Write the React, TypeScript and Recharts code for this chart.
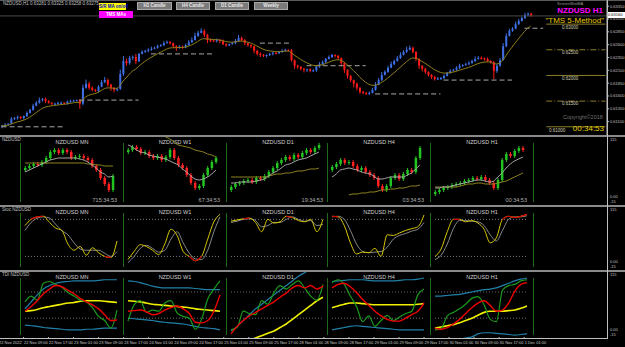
import React from "react";
import { ComposedChart, Bar, Line, XAxis, YAxis, ReferenceLine } from "recharts";

// ---- main NZDUSD H1 window, prices in pips (6300 = 0.63000) ----
const h1Open0 = 6100;
const h1Close = [
  6102, 6104, 6106, 6115, 6117, 6119, 6117, 6121, 6127, 6133,
  6141, 6147, 6152, 6154, 6150, 6147, 6145, 6145, 6146, 6147,
  6146, 6149, 6150, 6151, 6152, 6145, 6176, 6184, 6176, 6172,
  6170, 6178, 6187, 6191, 6182, 6176, 6172, 6174, 6203, 6228,
  6224, 6234, 6236, 6228, 6242, 6246, 6248, 6250, 6252, 6254,
  6257, 6259, 6263, 6265, 6263, 6257, 6254, 6256, 6255, 6259,
  6265, 6269, 6277, 6283, 6287, 6279, 6269, 6268, 6267, 6269,
  6267, 6261, 6259, 6261, 6263, 6267, 6273, 6269, 6263, 6259,
  6257, 6248, 6242, 6240, 6238, 6240, 6242, 6244, 6243, 6246,
  6248, 6250, 6249, 6230, 6219, 6217, 6213, 6211, 6212, 6209,
  6210, 6217, 6222, 6226, 6232, 6236, 6240, 6238, 6234, 6224,
  6211, 6199, 6191, 6184, 6176, 6168, 6166, 6164, 6166, 6172,
  6182, 6191, 6201, 6207, 6215, 6222, 6228, 6234, 6240, 6246,
  6250, 6254, 6246, 6232, 6219, 6213, 6207, 6201, 6197, 6193,
  6194, 6195, 6199, 6205, 6209, 6211, 6215, 6219, 6220, 6222,
  6224, 6228, 6232, 6234, 6233, 6232, 6228, 6226, 6209, 6219,
  6230, 6257, 6277, 6287, 6291, 6300, 6306, 6312, 6318, 6320,
  6316,
];
const h1WickUp = [
  2, 3, 1, 4, 2, 3, 2, 1, 3, 2, 4, 3, 5, 2, 3, 2, 1, 2, 3, 2,
  1, 2, 3, 2, 1, 2, 6, 8, 4, 3, 2, 3, 4, 6, 3, 2, 1, 2, 8, 10,
  5, 4, 3, 6, 2, 3, 2, 3, 4, 2, 3, 2, 4, 3, 2, 1, 2, 3, 2, 3,
  4, 5, 6, 4, 5, 3, 2, 3, 2, 3, 2, 3, 2, 1, 2, 4, 6, 3, 2, 1,
  2, 1, 2, 3, 2, 1, 2, 3, 2, 2, 3, 2, 1, 2, 1, 2, 1, 2, 1, 2,
  2, 3, 4, 3, 2, 3, 2, 1, 2, 1, 2, 1, 2, 1, 2, 1, 2, 2, 3, 4,
  5, 4, 6, 3, 4, 5, 3, 4, 5, 3, 6, 4, 2, 1, 2, 1, 2, 1, 2, 2,
  3, 2, 3, 2, 3, 2, 3, 4, 2, 3, 4, 3, 5, 4, 3, 2, 3, 2, 2, 3,
  4, 6, 5, 4, 3, 5, 4, 3, 4, 3, 2,
];
const h1WickDn = [
  3, 2, 2, 1, 2, 3, 2, 3, 2, 1, 2, 1, 2, 3, 4, 2, 3, 4, 2, 3,
  2, 3, 2, 1, 2, 10, 3, 2, 4, 3, 2, 3, 1, 2, 4, 6, 5, 3, 2, 4,
  5, 3, 4, 6, 2, 1, 2, 3, 2, 1, 2, 1, 2, 1, 3, 4, 6, 2, 3, 2,
  1, 2, 1, 2, 1, 4, 6, 3, 2, 3, 4, 2, 3, 2, 1, 2, 1, 3, 4, 3,
  4, 5, 3, 4, 2, 3, 2, 3, 2, 1, 2, 1, 2, 3, 6, 4, 3, 5, 4, 3,
  2, 3, 2, 1, 2, 1, 2, 3, 4, 5, 6, 5, 4, 7, 5, 4, 3, 2, 2, 1,
  2, 1, 2, 1, 2, 1, 2, 1, 2, 1, 2, 1, 3, 4, 6, 5, 4, 3, 4, 3,
  2, 3, 2, 1, 2, 1, 2, 3, 2, 1, 2, 1, 2, 1, 2, 3, 2, 3, 16, 4,
  2, 1, 2, 1, 2, 1, 2, 1, 2, 3, 2,
];
const priceTicks = [6335, 6310, 6285, 6260, 6235, 6210, 6185, 6160, 6135, 6110];
const levelPrices = [6300, 6250, 6200, 6150, 6100];
const levelLabels = ["0.63000", "0.62500", "0.62000", "0.61500", "0.61000"];
// dashed support / resistance pieces: [first bar, last bar, price]
const srLines = [
  [0, 20, 6100],
  [25, 44, 6152],
  [48, 68, 6242],
  [83, 93, 6263],
  [98, 117, 6219],
  [120, 141, 6164],
  [142, 164, 6191],
  [168, 174, 6292],
];
const timeLabels = [
  "22 Nov 2022", "22 Nov 09:00", "22 Nov 17:00", "23 Nov 01:00", "23 Nov 09:00",
  "23 Nov 17:00", "24 Nov 01:00", "24 Nov 09:00", "24 Nov 17:00", "25 Nov 01:00",
  "25 Nov 09:00", "25 Nov 17:00", "28 Nov 01:00", "28 Nov 09:00", "28 Nov 17:00",
  "29 Nov 01:00", "29 Nov 09:00", "29 Nov 17:00", "30 Nov 01:00", "30 Nov 09:00",
  "30 Nov 17:00", "1 Dec 01:00",
];

// ---- the five small windows (MN, W1, D1, H4, H1) ----
const frames = ["MN", "W1", "D1", "H4", "H1"];
const frameTimers = ["715:34:53", "67:34:53", "19:34:53", "03:34:53", "00:34:53"];
const subOpen0 = [30, 48, 10, 30, 6];
const subClose = [
  [32, 34, 36, 35, 38, 42, 48, 50, 47, 50, 48, 42, 43, 44, 42, 40, 34, 30, 22, 16, 10, 24],
  [50, 53, 51, 47, 48, 44, 42, 44, 40, 43, 50, 42, 35, 32, 25, 17, 12, 14, 25, 32, 38, 42],
  [13, 16, 17, 19, 20, 18, 22, 21, 24, 28, 32, 37, 40, 43, 41, 45, 43, 47, 50, 48, 52, 55],
  [33, 36, 40, 37, 38, 34, 30, 32, 28, 25, 22, 14, 10, 14, 22, 25, 21, 26, 30, 28, 42, 52],
  [8, 10, 12, 13, 15, 16, 17, 19, 20, 22, 21, 23, 20, 17, 12, 20, 40, 46, 44, 49, 52, 50],
];
const subFastMa = [
  [28, 30, 32, 34, 36, 38, 40, 41, 42, 42, 42, 42, 42, 41, 40, 38, 35, 32, 28, 26, 23, 24],
  [55, 53, 50, 48, 47, 45, 44, 43, 42, 41, 39, 37, 35, 31, 28, 24, 21, 20, 21, 23, 26, 30],
  [17, 17, 18, 18, 18, 18, 19, 20, 21, 24, 27, 29, 32, 35, 36, 38, 40, 41, 42, 44, 46, 48],
  [23, 26, 30, 31, 32, 31, 30, 28, 27, 26, 24, 21, 21, 22, 23, 23, 23, 23, 25, 27, 31, 35],
  [12, 12, 13, 13, 14, 15, 16, 17, 18, 19, 20, 20, 19, 18, 19, 23, 27, 32, 36, 39, 41, 43],
];
const subSlowMa = [
  [37, 37, 37, 37, 37, 37, 37, 37, 37, 37, 37, 37, 37, 37, 37, 36, 36, 35, 35, 34, 34, 34],
  [75, 74, 73, 72, 71, 70, 68, 67, 65, 63, 61, 58, 55, 54, 53, 52, 50, 49, 48, 46, 45, 43],
  [23, 23, 23, 23, 23, 23, 23, 23, 23, 24, 25, 26, 26, 27, 27, 28, 29, 29, 30, 31, 31, 32],
  [null, null, null, null, 5, 6, 6, 7, 7, 8, 8, 9, 10, 10, 11, 11, 12, 12, 13, 14, 14, 15],
  [13, 13, 13, 13, 13, 13, 14, 15, 16, 16, 17, 17, 16, 16, 16, 17, 18, 19, 21, 23, 25, 27],
];
const stochMain = [
  [70, 80, 84, 85, 75, 66, 62, 40, 30, 36, 22, 34, 26, 20, 18, 45],
  [15, 28, 39, 36, 30, 23, 40, 64, 54, 28, 20, 13, 20, 48, 76, 88],
  [77, 79, 81, 82, 75, 60, 80, 74, 76, 85, 83, 78, 76, 80, 60, 80],
  [85, 84, 70, 42, 24, 27, 26, 33, 20, 55, 54, 58, 62, 65, 68, 87],
  [20, 32, 60, 80, 80, 76, 78, 74, 64, 42, 50, 80, 85, 83, 85, 88],
];
const stochSignal = [
  [62, 75, 82, 84, 82, 72, 62, 55, 42, 32, 30, 30, 30, 25, 20, 28],
  [10, 20, 33, 38, 33, 27, 30, 48, 60, 42, 25, 16, 15, 30, 60, 84],
  [75, 77, 80, 81, 78, 68, 70, 75, 75, 80, 84, 80, 77, 78, 70, 72],
  [84, 85, 80, 62, 40, 28, 26, 27, 28, 35, 48, 54, 57, 61, 64, 75],
  [15, 22, 40, 65, 78, 78, 77, 76, 70, 55, 45, 62, 80, 84, 84, 86],
];
const tdiGreen = [
  [50, 60, 53, 82, 85, 80, 75, 66, 60, 53, 50, 40, 25, 18, 5, 36],
  [17, 45, 52, 32, 36, 34, 48, 52, 31, 25, 22, 3, 20, 55, 72, 86],
  [2, 6, 34, 30, 28, 52, 46, 66, 78, 72, 80, 86, 74, 60, 53, 80],
  [83, 88, 80, 60, 42, 16, 26, 8, 18, 27, 18, 24, 30, 34, 62, 72],
  [2, 4, 26, 32, 38, 46, 56, 59, 45, 20, 16, 70, 78, 80, 86, 88],
];
const tdiRed = [
  [34, 42, 52, 64, 72, 78, 76, 70, 64, 56, 50, 45, 38, 28, 18, 19],
  [34, 35, 36, 33, 28, 30, 36, 40, 43, 38, 30, 15, 14, 18, 34, 62],
  [-5, 8, 18, 26, 32, 38, 44, 50, 58, 65, 74, 78, 74, 78, 72, 77],
  [74, 80, 82, 76, 66, 54, 44, 34, 26, 20, 17, 17, 22, 28, 34, 48],
  [5, 3, 6, 12, 20, 30, 40, 48, 52, 44, 34, 36, 48, 68, 80, 83],
];
const tdiYellow = [
  [34, 35, 37, 40, 42, 44, 46, 48, 49, 51, 52, 52, 52, 51, 50, 49],
  [52, 51, 50, 48, 46, 45, 44, 43, 42, 41, 40, 38, 37, 36, 35, 34],
  [-30, -25, -20, -16, -12, -8, -4, 0, 6, 12, 20, 28, 36, 44, 52, 58],
  [40, 43, 46, 48, 48, 47, 46, 45, 45, 45, 45, 45, 45, 45, 46, 47],
  [5, 7, 9, 11, 14, 18, 22, 27, 32, 34, 34, 34, 35, 36, 39, 43],
];
const tdiUpper = [
  [38, 50, 62, 72, 78, 82, 84, 85, 86, 86, 86, 86, 87, 88, 88, 88],
  [86, 85, 83, 80, 77, 75, 74, 74, 74, 74, 74, 73, 72, 71, 71, 71],
  [0, 8, 18, 28, 38, 46, 54, 62, 70, 78, 86, 94, 100, 106, 110, 114],
  [85, 86, 87, 88, 88, 88, 87, 86, 86, 86, 86, 87, 88, 88, 89, 91],
  [60, 60, 61, 62, 63, 65, 67, 69, 71, 72, 74, 78, 82, 86, 89, 91],
];
const tdiLower = [
  [10, 9, 8, 6, 5, 4, 3, 2, 2, 2, 3, 3, 4, 5, 5, 5],
  [22, 21, 20, 19, 18, 16, 15, 14, 13, 12, 10, 8, 6, 5, 4, 2],
  [-60, -56, -52, -48, -45, -42, -39, -36, -33, -30, -28, -26, -24, -22, -20, -18],
  [2, 4, 6, 8, 9, 8, 7, 6, 5, 4, 3, 2, 2, 2, 2, 2],
  [-20, -20, -18, -16, -14, -12, -10, -5, -3, -3, -4, -5, -6, -7, -6, -5],
];

const SLOTS = 195;
const FONT = "'Liberation Sans', Arial, sans-serif";
const UP = "#3f6fe6";
const DOWN = "#ff1a1a";
const SEPS = [20, 123, 226, 327, 430];

// TMS MA, ema 10 of the closes
const emaK = 2 / (10 + 1);
let emaVal = h1Close[0];
const h1Ma = h1Close.map((c) => (emaVal = emaVal + emaK * (c - emaVal)));

const mainRows = Array.from({ length: SLOTS }, (_, i) => {
  if (i >= h1Close.length) return { i };
  const o = i === 0 ? h1Open0 : h1Close[i - 1];
  const c = h1Close[i];
  const hi = Math.max(o, c) + h1WickUp[i];
  const lo = Math.min(o, c) - h1WickDn[i];
  return { i, o, c, hi, lo, range: [lo, hi], ma: h1Ma[i] };
});
const lastClose = h1Close[h1Close.length - 1];
const fmt = (p: number) => (p / 10000).toFixed(5);

const MainCandle = (props: any) => {
  const { x, y, width, height, payload } = props;
  if (!payload || payload.hi == null) return null;
  const top = Math.min(y, y + height);
  const h = Math.abs(height);
  const span = payload.hi - payload.lo || 1;
  const py = (v: number) => top + ((payload.hi - v) / span) * h;
  const color = payload.c >= payload.o ? UP : DOWN;
  const cx = x + width / 2;
  const bTop = py(Math.max(payload.o, payload.c));
  const bBot = py(Math.min(payload.o, payload.c));
  return (
    <g>
      <line x1={cx} x2={cx} y1={top} y2={top + h} stroke={color} strokeWidth={1} />
      <rect x={x} y={bTop} width={width} height={Math.max(1, bBot - bTop)} fill={color} />
    </g>
  );
};

const SubCandle = (props: any) => {
  const { x, y, width, height, payload } = props;
  if (!payload) return null;
  const color = payload.c >= payload.o ? "#22c422" : "#ff2222";
  const top = Math.min(y, y + height);
  const h = Math.max(1, Math.abs(height));
  const cx = x + width / 2;
  return (
    <g>
      <line x1={cx} x2={cx} y1={top - 2} y2={top + h + 2} stroke={color} strokeWidth={1} />
      <rect x={x} y={top} width={width} height={h} fill={color} />
    </g>
  );
};

const TimeTick = (props: any) => {
  const { x, y, payload } = props;
  return (
    <g>
      <line x1={x - 1.5} x2={x - 1.5} y1={y - 2} y2={y} stroke="#c0c0c0" />
      <text x={x - 1} y={y + 5.5} fontSize={4} fill="#c8c8c8" textAnchor="start" fontFamily={FONT}>
        {timeLabels[payload.value / 8]}
      </text>
    </g>
  );
};

function Txt(p: { x: number; y: number; size?: number; color?: string; bold?: boolean; center?: boolean; right?: boolean; children: any }) {
  const tx = p.center ? "translateX(-50%)" : p.right ? "translateX(-100%)" : undefined;
  return (
    <div
      style={{
        position: "absolute", left: p.x, top: p.y, fontSize: p.size || 5, color: p.color || "#c0c0c0",
        fontWeight: p.bold ? 700 : 400, lineHeight: 1, whiteSpace: "nowrap", transform: tx, fontFamily: FONT,
      }}
    >
      {p.children}
    </div>
  );
}

function Button(p: { x: number; y: number; w: number; h: number; bg: string; color: string; label: string; border?: string }) {
  return (
    <div
      style={{
        position: "absolute", left: p.x, top: p.y, width: p.w, height: p.h, background: p.bg, boxSizing: "border-box",
        border: p.border ? `1px solid ${p.border}` : "none", color: p.color, fontSize: 4.5, fontWeight: 700,
        fontFamily: FONT, lineHeight: `${p.h - (p.border ? 2 : 0)}px`, textAlign: "center", whiteSpace: "nowrap",
      }}
    >
      {p.label}
    </div>
  );
}

function CandleBox({ k }: { k: number }) {
  const closes = subClose[k];
  const rows = closes.map((c, i) => {
    const o = i === 0 ? subOpen0[k] : closes[i - 1];
    return { i, o, c, body: [Math.min(o, c), Math.max(o, c)], fast: subFastMa[k][i], slow: subSlowMa[k][i] };
  });
  return (
    <div style={{ position: "absolute", left: SEPS[k], top: 137 }}>
      <ComposedChart width={103} height={68} data={rows} margin={{ top: 0, right: 8, bottom: 0, left: 3 }}>
        <XAxis dataKey="i" hide />
        <YAxis hide domain={[-5, 63]} allowDataOverflow />
        <Bar dataKey="body" barSize={2.5} isAnimationActive={false} shape={(p: any) => <SubCandle {...p} />} />
        <Line dataKey="slow" stroke="#8f8420" strokeWidth={1} dot={false} type="monotone" isAnimationActive={false} />
        <Line dataKey="fast" stroke="#a8a8a8" strokeWidth={1} dot={false} type="monotone" isAnimationActive={false} />
      </ComposedChart>
    </div>
  );
}

function StochBox({ k }: { k: number }) {
  const rows = stochMain[k].map((v, i) => ({ x: i, main: v, sig: stochSignal[k][i], hot: v >= 80 || v <= 20 ? v : null }));
  return (
    <div style={{ position: "absolute", left: SEPS[k], top: 207 }}>
      <ComposedChart width={103} height={63} data={rows} margin={{ top: 0, right: 6, bottom: 0, left: 5 }}>
        <XAxis dataKey="x" type="number" domain={[0, 15]} hide />
        <YAxis hide domain={[-2, 100]} allowDataOverflow />
        <ReferenceLine y={80} stroke="#7a7a7a" strokeDasharray="1 2" />
        <ReferenceLine y={20} stroke="#7a7a7a" strokeDasharray="1 2" />
        <Line dataKey="sig" stroke="#8a8a8a" strokeWidth={1} dot={false} type="monotone" isAnimationActive={false} />
        <Line dataKey="main" stroke="#d8c800" strokeWidth={1} dot={false} type="monotone" isAnimationActive={false} />
        <Line dataKey="hot" stroke="#d00000" strokeWidth={1.2} dot={false} type="monotone" isAnimationActive={false} />
      </ComposedChart>
    </div>
  );
}

function TdiBox({ k }: { k: number }) {
  const rows = tdiGreen[k].map((v, i) => ({
    x: i, green: v, red: tdiRed[k][i], yellow: tdiYellow[k][i], upper: tdiUpper[k][i], lower: tdiLower[k][i],
  }));
  const ln = (key: string, color: string, w: number) => (
    <Line dataKey={key} stroke={color} strokeWidth={w} dot={false} type="monotone" isAnimationActive={false} />
  );
  return (
    <div style={{ position: "absolute", left: SEPS[k], top: 272 }}>
      <ComposedChart width={103} height={66} data={rows} margin={{ top: 0, right: 6, bottom: 0, left: 5 }}>
        <XAxis dataKey="x" type="number" domain={[0, 15]} hide />
        <YAxis hide domain={[-12, 101.3]} allowDataOverflow />
        <ReferenceLine y={67} stroke="#6a6a6a" strokeDasharray="1 2" />
        <ReferenceLine y={22} stroke="#6a6a6a" strokeDasharray="1 2" />
        {ln("upper", "#2180a8", 1.2)}
        {ln("lower", "#2180a8", 1.2)}
        {ln("yellow", "#f0f000", 1.6)}
        {ln("green", "#1c9a1c", 1.2)}
        {ln("red", "#f00000", 1.4)}
      </ComposedChart>
    </div>
  );
}

function PanelDecor({ top, bottom, label }: { top: number; bottom: number; label: string }) {
  return (
    <>
      <Txt x={2} y={top + 1} size={4.5}>{label}</Txt>
      {[...SEPS, 533].map((s) => (
        <div key={s} style={{ position: "absolute", left: s, top: top + 6, width: 1, height: bottom - top - 9, background: "#1d6a1d" }} />
      ))}
      {frames.map((f, k) => (
        <Txt key={f} x={SEPS[k] + 52} y={top + 3} size={5.5} color="#d0d0d0" center>{`NZDUSD ${f}`}</Txt>
      ))}
      <Txt x={610} y={top + 1} size={4}>115</Txt>
      <Txt x={610} y={bottom - 10} size={4}>0.00</Txt>
      <Txt x={610} y={bottom - 5} size={4}>-15</Txt>
    </>
  );
}

export default function App() {
  return (
    <div style={{ position: "absolute", left: 0, top: 0, width: 625, height: 347, background: "#000", overflow: "hidden", fontFamily: FONT }}>
      {/* main H1 chart */}
      <div style={{ position: "absolute", left: 0, top: 0 }}>
        <ComposedChart width={625} height={135} data={mainRows} margin={{ top: 0, right: 0, bottom: 0, left: 0 }}>
          <XAxis dataKey="i" hide />
          <YAxis
            orientation="right" width={18} domain={[6084, 6347]} ticks={priceTicks} allowDataOverflow
            tickFormatter={fmt} tick={{ fontSize: 4, fill: "#c0c0c0", fontFamily: FONT }}
            tickSize={2} tickMargin={1} axisLine={{ stroke: "#c0c0c0" }} tickLine={{ stroke: "#c0c0c0" }} interval={0}
          />
          <ReferenceLine y={lastClose} stroke="#4a4a4a" />
          {srLines.map(([a, b, p], n) => (
            <ReferenceLine key={`sr${n}`} segment={[{ x: a, y: p }, { x: b, y: p }]} stroke="#a8a8a8" strokeDasharray="5 3" />
          ))}
          {levelPrices.map((p, n) => (
            <ReferenceLine key={`lv${n}`} segment={[{ x: 175, y: p }, { x: 194, y: p }]} stroke="#8c7d2a" strokeDasharray={n % 2 ? "6 2 1 2" : undefined} />
          ))}
          <Bar dataKey="range" barSize={2} isAnimationActive={false} shape={(p: any) => <MainCandle {...p} />} />
          <Line dataKey="ma" stroke="#8f7f1a" strokeWidth={1} dot={false} type="monotone" isAnimationActive={false} />
        </ComposedChart>
      </div>

      {/* main window texts */}
      <Txt x={3} y={2} size={4.5}>NZDUSD,H1  0.63281 0.63325 0.63258 0.63275</Txt>
      <Button x={99} y={3} w={27} h={7} bg="#ffff00" color="#0000c8" label="S/R MA on/off" />
      <Button x={99} y={11} w={34} h={7} bg="#ff00ff" color="#ffffff" label="TMS MAs" />
      <Button x={137} y={2} w={35} h={8} bg="#7a7a7a" color="#e8e8e8" border="#a8a8a8" label="H1 Candle" />
      <Button x={176} y={2} w={34} h={8} bg="#7a7a7a" color="#e8e8e8" border="#a8a8a8" label="H4 Candle" />
      <Button x={215} y={2} w={34} h={8} bg="#7a7a7a" color="#e8e8e8" border="#a8a8a8" label="D1 Candle" />
      <Button x={254} y={2} w={34} h={8} bg="#7a7a7a" color="#e8e8e8" border="#a8a8a8" label="Weekly" />
      <Txt x={557} y={2} size={4} color="#9a9a9a">ScreenShotEA</Txt>
      <Txt x={603} y={7} size={8} color="#ff00ff" bold right>NZDUSD H1</Txt>
      <Txt x={604} y={17} size={8} color="#e6c800" right>"TMS 5-Method"</Txt>
      {levelLabels.map((t, n) => (
        <Txt key={t} x={n === 4 ? 549 : 562} y={[26, 51, 77, 102, 129][n]} size={4.5} color="#d0d0b0">{t}</Txt>
      ))}
      <Txt x={563} y={115} size={5.5} color="#707070">Copyright©2018</Txt>
      <Txt x={604} y={125} size={8} color="#e6d200" right>00:34:53</Txt>
      <div style={{ position: "absolute", left: 608, top: 12, width: 17, height: 6, background: "#fff", color: "#000", fontSize: 4, lineHeight: "6px", fontFamily: FONT }}>
        {fmt(lastClose)}
      </div>

      {/* panel separators and frame */}
      <div style={{ position: "absolute", left: 0, top: 0, width: 625, height: 1, background: "#5a5a5a" }} />
      {[135, 205, 270].map((t) => (
        <div key={t} style={{ position: "absolute", left: 0, top: t, width: 625, height: 2, background: "#8a8a8a" }} />
      ))}
      <div style={{ position: "absolute", left: 607, top: 0, width: 1, height: 339, background: "#c0c0c0" }} />
      <div style={{ position: "absolute", left: 0, top: 338, width: 608, height: 1, background: "#c0c0c0" }} />

      {/* candles of the five timeframes */}
      <PanelDecor top={137} bottom={205} label="NZDUSD" />
      {frames.map((f, k) => <CandleBox key={f} k={k} />)}
      {frameTimers.map((t, k) => (
        <Txt key={t} x={SEPS[k] + 97} y={198} size={5.5} color="#b0b0b0" right>{t}</Txt>
      ))}

      {/* stochastic */}
      <PanelDecor top={207} bottom={270} label="Stoc NZDUSD" />
      {frames.map((f, k) => <StochBox key={f} k={k} />)}

      {/* TDI */}
      <PanelDecor top={272} bottom={338} label="TDI NZDUSD" />
      {frames.map((f, k) => <TdiBox key={f} k={k} />)}

      {/* time axis */}
      <div style={{ position: "absolute", left: 0, top: 337 }}>
        <ComposedChart width={607} height={10} data={mainRows} margin={{ top: 0, right: 0, bottom: 0, left: 0 }}>
          <XAxis
            dataKey="i" height={9} ticks={timeLabels.map((_, n) => n * 8)} interval={0}
            tick={(p: any) => <TimeTick {...p} />} tickLine={false} axisLine={false} tickSize={0} tickMargin={0}
          />
          <YAxis hide domain={[6084, 6347]} />
          <Line dataKey="c" stroke="none" dot={false} isAnimationActive={false} />
        </ComposedChart>
      </div>
    </div>
  );
}
